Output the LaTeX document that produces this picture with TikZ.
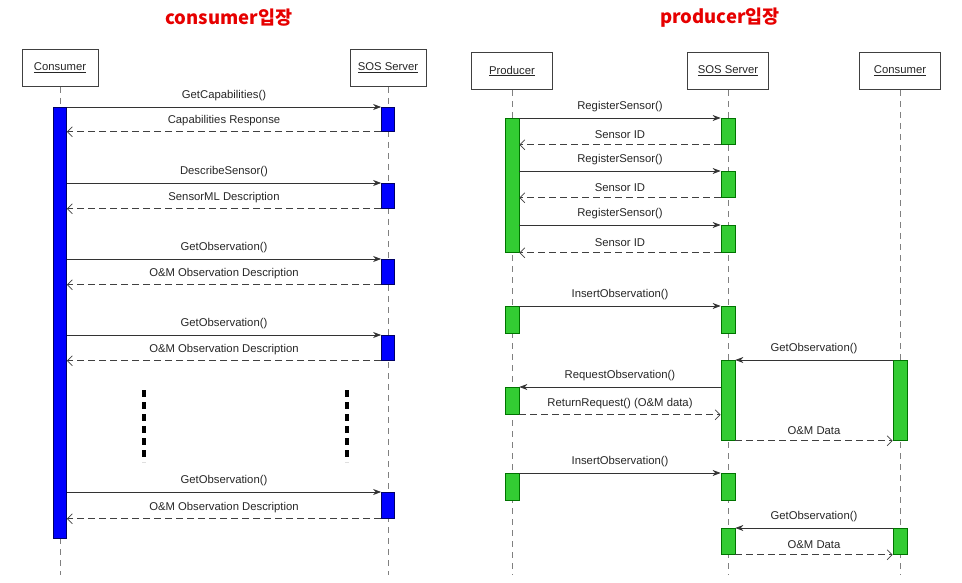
\documentclass[tikz,border=0pt]{standalone}
\usepackage{fontspec}
\setmainfont{Liberation Sans}
\newfontfamily\cjk{Noto Sans CJK KR}
\usetikzlibrary{
	calc,
	arrows.meta,
	positioning
	}
\tikzset{font={\fontsize{11.3pt}{13}\selectfont}}
\definecolor{barblue}{HTML}{0000FF}
\definecolor{bargreen}{HTML}{33CC33}
\definecolor{titlered}{HTML}{E60000}
\tikzstyle{titre}=[text=titlered, font={\cjk\bfseries\fontsize{18.5pt}{22}\selectfont}]
\tikzstyle{actor}=[draw=black!75, line width=1pt, minimum width=76pt, minimum height=37pt, text=black!85]
\tikzstyle{life}=[draw=gray, line width=0.8pt, dash pattern=on 6pt off 5pt]
\tikzstyle{act-b}=[draw=black!60!blue, fill=barblue, line width=0.8pt, minimum width=13pt, inner sep=0pt, anchor=north]
\tikzstyle{act-g}=[draw=black!55!green, fill=bargreen, line width=0.8pt, minimum width=14pt, inner sep=0pt, anchor=north]
\tikzstyle{call}=[draw=black!80, line width=0.7pt, -{Stealth[length=8pt,width=6pt]}]
\tikzstyle{reply}=[draw=black!75, line width=0.7pt, dash pattern=on 7pt off 4pt, -{Straight Barb[length=5pt,width=10pt]}]
\tikzstyle{lbl}=[above=5pt, inner sep=1pt, text=black!85]
\tikzstyle{dots}=[line width=3.5pt, dash pattern=on 7pt off 5pt]

\begin{document}
\begin{tikzpicture}[x=1pt, y=-1pt]
        \useasboundingbox (0,0) rectangle (962,583);
        % consumer
        \node[titre] (t1) at (229,18) {consumer입장};
        \node[actor] (cons) at (60,68) {\underline{Consumer}};
        \node[actor] (sos1) at (388,68) {\underline{SOS Server}};
        \coordinate (cons-end) at (60,575);
        \coordinate (sos1-end) at (388,575);
        \draw[life] (cons) -- (cons-end);
        \draw[life] (sos1) -- (sos1-end);

        \node[act-b, minimum height=431pt] (cb) at (60,107) {};
        \node[act-b, minimum height=24pt] (s1) at (388,107) {};
        \node[act-b, minimum height=25pt] (s2) at (388,183) {};
        \node[act-b, minimum height=25pt] (s3) at (388,259) {};
        \node[act-b, minimum height=25pt] (s4) at (388,335) {};
        \node[act-b, minimum height=26pt] (s5) at (388,492) {};

        \draw[call] (cb.east |- s1.north) -- node[lbl] {GetCapabilities()} (s1.north west);
        \draw[reply] (s1.south west) -- node[lbl] {Capabilities Response} (cb.east |- s1.south);
        \draw[call] (cb.east |- s2.north) -- node[lbl] {DescribeSensor()} (s2.north west);
        \draw[reply] (s2.south west) -- node[lbl] {SensorML Description} (cb.east |- s2.south);
        \draw[call] (cb.east |- s3.north) -- node[lbl] {GetObservation()} (s3.north west);
        \draw[reply] (s3.south west) -- node[lbl] {O\&M Observation Description} (cb.east |- s3.south);
        \draw[call] (cb.east |- s4.north) -- node[lbl] {GetObservation()} (s4.north west);
        \draw[reply] (s4.south west) -- node[lbl] {O\&M Observation Description} (cb.east |- s4.south);
        \draw[call] (cb.east |- s5.north) -- node[lbl] {GetObservation()} (s5.north west);
        \draw[reply] (s5.south west) -- node[lbl] {O\&M Observation Description} (cb.east |- s5.south);

        \draw[dots] (144,390) -- (144,462);
        \draw[dots] (347,390) -- (347,462);

        % producer
        \node[titre] (t2) at (720,18) {producer입장};
        \node[actor, minimum width=81pt] (prod) at (512,71) {\underline{Producer}};
        \node[actor, minimum width=81pt] (sos2) at (728,71) {\underline{SOS Server}};
        \node[actor, minimum width=81pt] (cons2) at (900,71) {\underline{Consumer}};
        \coordinate (prod-end) at (512,575);
        \coordinate (sos2-end) at (728,575);
        \coordinate (cons2-end) at (900,575);
        \draw[life] (prod) -- (prod-end);
        \draw[life] (sos2) -- (sos2-end);
        \draw[life] (cons2) -- (cons2-end);

        \node[act-g, minimum height=134pt] (pb1) at (512,118) {};
        \node[act-g, minimum height=26pt] (ss1) at (728,118) {};
        \node[act-g, minimum height=26pt] (ss2) at (728,171) {};
        \node[act-g, minimum height=27pt] (ss3) at (728,225) {};
        \node[act-g, minimum height=27pt] (pb2) at (512,306) {};
        \node[act-g, minimum height=27pt] (ss4) at (728,306) {};
        \node[act-g, minimum height=80pt] (ss5) at (728,360) {};
        \node[act-g, minimum height=80pt] (cb1) at (900,360) {};
        \node[act-g, minimum height=27pt] (pb3) at (512,387) {};
        \node[act-g, minimum height=27pt] (pb4) at (512,473) {};
        \node[act-g, minimum height=27pt] (ss6) at (728,473) {};
        \node[act-g, minimum height=26pt] (ss7) at (728,528) {};
        \node[act-g, minimum height=26pt] (cb2) at (900,528) {};

        \draw[call] (pb1.east |- ss1.north) -- node[lbl] {RegisterSensor()} (ss1.north west);
        \draw[reply] (ss1.south west) -- node[lbl] {Sensor ID} (pb1.east |- ss1.south);
        \draw[call] (pb1.east |- ss2.north) -- node[lbl] {RegisterSensor()} (ss2.north west);
        \draw[reply] (ss2.south west) -- node[lbl] {Sensor ID} (pb1.east |- ss2.south);
        \draw[call] (pb1.east |- ss3.north) -- node[lbl] {RegisterSensor()} (ss3.north west);
        \draw[reply] (ss3.south west) -- node[lbl] {Sensor ID} (pb1.east |- ss3.south);

        \draw[call] (pb2.north east) -- node[lbl] {InsertObservation()} (ss4.north west);
        \draw[call] (cb1.north west) -- node[lbl] {GetObservation()} (ss5.north east);
        \draw[call] (ss5.west |- pb3.north) -- node[lbl] {RequestObservation()} (pb3.north east);
        \draw[reply] (pb3.south east) -- node[lbl] {ReturnRequest() (O\&M data)} (ss5.west |- pb3.south);
        \draw[reply] (ss5.south east) -- node[lbl] {O\&M Data} (cb1.south west);

        \draw[call] (pb4.north east) -- node[lbl] {InsertObservation()} (ss6.north west);
        \draw[call] (cb2.north west) -- node[lbl] {GetObservation()} (ss7.north east);
        \draw[reply] (ss7.south east) -- node[lbl] {O\&M Data} (cb2.south west);
    \end{tikzpicture}
\end{document}
